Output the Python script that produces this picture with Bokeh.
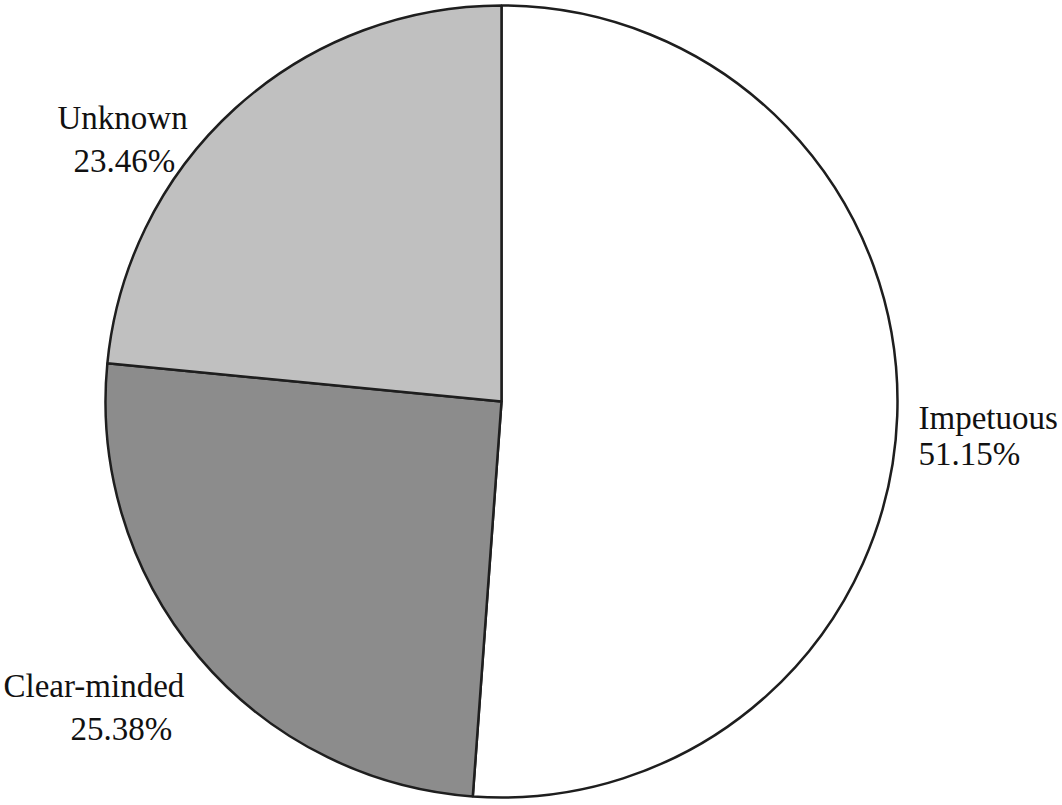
from math import pi

from bokeh.core.properties import value
from bokeh.embed import file_html
from bokeh.models import ColumnDataSource, Range1d
from bokeh.plotting import figure
from bokeh.resources import INLINE

# Share of each category (percent), in clockwise order from 12 o'clock
categories = ["Impetuous", "Clear-minded", "Unknown"]
shares = [51.15, 25.38, 23.46]
colors = ["#ffffff", "#8c8c8c", "#c0c0c0"]

W, H = 1062, 805
cx, cy, r = 501, H - 401, 396

# Wedges go clockwise starting at the top
start, end = [], []
cum = 0.0
total = sum(shares)
for s in shares:
    a0 = pi / 2 - 2 * pi * cum / total
    cum += s
    a1 = pi / 2 - 2 * pi * cum / total
    start.append(a1)
    end.append(a0)

src = ColumnDataSource(dict(cat=categories, share=shares, color=colors,
                            start=start, end=end))

p = figure(width=W, height=H, output_backend="svg", toolbar_location=None,
           x_range=Range1d(0, W), y_range=Range1d(0, H),
           min_border=0, outline_line_color=None)
p.axis.visible = False
p.grid.visible = False
p.background_fill_color = "white"
p.border_fill_color = "white"

p.wedge(x=cx, y=cy, radius=r, radius_units="data",
        start_angle="start", end_angle="end", direction="anticlock",
        fill_color="color", line_color="#1e1e1e", line_width=2.5, source=src)

# Label anchors (left x, baseline y in screen pixels) per category
name_pos = {"Impetuous": (918, 417), "Clear-minded": (3, 685), "Unknown": (57, 117)}
pct_pos = {"Impetuous": (918, 453), "Clear-minded": (70, 728), "Unknown": (73, 160)}

lx, ly, lt = [], [], []
for c, s in zip(categories, shares):
    x, y = name_pos[c]
    lx.append(x); ly.append(H - y); lt.append(c)
    x, y = pct_pos[c]
    lx.append(x); ly.append(H - y); lt.append(f"{s:.2f}%")

p.text(x=lx, y=ly, text=lt,
       text_font=value("'Liberation Serif', 'Times New Roman', 'DejaVu Serif', serif"),
       text_font_size="33px", text_color="#111111",
       text_align="left", text_baseline="alphabetic")

open("out.html", "w").write(file_html(p, INLINE))
